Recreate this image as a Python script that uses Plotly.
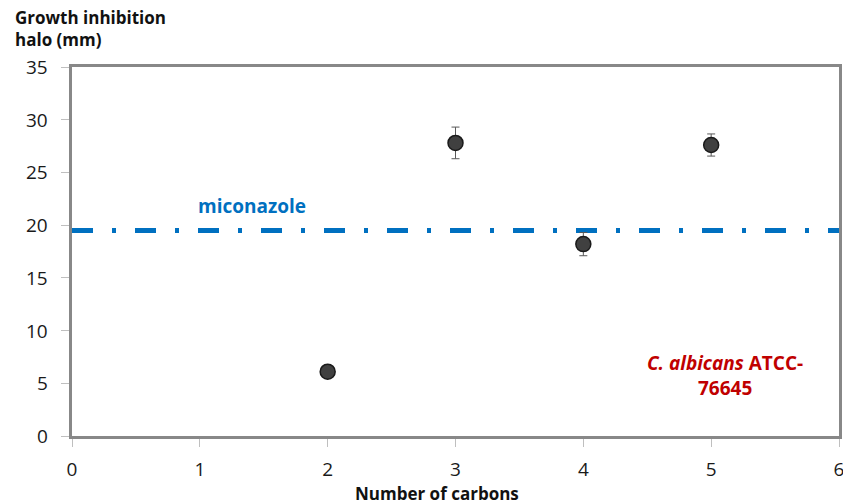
import plotly.graph_objects as go

# Inhibition halo by chain length
carbons = [2, 3, 4, 5]
halo_mm = [6.1, 27.8, 18.2, 27.6]
halo_err = [0.3, 1.5, 1.1, 1.05]

# Reference drug level
miconazole_x = [0, 6]
miconazole_y = [19.5, 19.5]

x_ticks = [0, 1, 2, 3, 4, 5, 6]
y_ticks = [0, 5, 10, 15, 20, 25, 30, 35]

font_family = "Open Sans, Liberation Sans, sans-serif"
tick_font = dict(family=font_family, size=19, color="#1a1a1a")

fig = go.Figure()

fig.add_trace(go.Scatter(
    x=miconazole_x, y=miconazole_y, mode="lines",
    line=dict(color="#0070C0", width=5, dash="21px,19px,4px,19px"),
    hoverinfo="skip", showlegend=False, cliponaxis=False,
))

fig.add_trace(go.Scatter(
    x=carbons, y=halo_mm, mode="markers",
    marker=dict(size=15, color="#404040", line=dict(color="#1a1a1a", width=1.5)),
    error_y=dict(type="data", array=halo_err, visible=True,
                 color="#595959", thickness=1, width=4),
    showlegend=False,
))

axis_common = dict(
    showgrid=False, zeroline=False, showline=True, linecolor="#888888",
    linewidth=3, mirror=True, ticks="outside", ticklen=8, tickcolor="#bfbfbf",
    tickwidth=1, tickfont=tick_font, ticklabeloverflow="allow",
)

fig.update_xaxes(range=[0, 6], tickvals=x_ticks, ticklabelstandoff=6, **axis_common)
fig.update_yaxes(range=[0, 35], tickvals=y_ticks, showticklabels=False, **axis_common)

# y tick labels set a little further from the axis than plotly's default
y_labels = [
    dict(text=str(v), xref="paper", yref="y", x=0, y=v, xanchor="right",
         xshift=-22, showarrow=False, font=tick_font)
    for v in y_ticks
]

fig.update_layout(
    width=843, height=504,
    margin=dict(l=72, r=4, t=67, b=68, autoexpand=False),
    plot_bgcolor="white", paper_bgcolor="white",
    font=dict(family=font_family),
    annotations=y_labels + [
        dict(text="<b>Growth inhibition<br>halo (mm)</b>", xref="paper", yref="paper",
             x=-72/767, y=1 + 67/369, xanchor="left", yanchor="top", align="left",
             showarrow=False, font=dict(family=font_family, size=17, color="#111111"),
             yshift=-4, xshift=13),
        dict(text="<b>Number of carbons</b>", xref="paper", yref="paper",
             x=0.476, y=0, xanchor="center", yanchor="top", showarrow=False,
             yshift=-44, font=dict(family=font_family, size=17, color="#111111")),
        dict(text="<b>miconazole</b>", xref="x", yref="y", x=1.41, y=21.8,
             showarrow=False, font=dict(family=font_family, size=19, color="#0070C0")),
        dict(text="<b><i>C. albicans</i> ATCC-<br>76645</b>", xref="x", yref="y",
             x=5.11, y=5.7, showarrow=False, align="center",
             font=dict(family=font_family, size=19, color="#C00000")),
    ],
)

fig.write_html("out.html")
